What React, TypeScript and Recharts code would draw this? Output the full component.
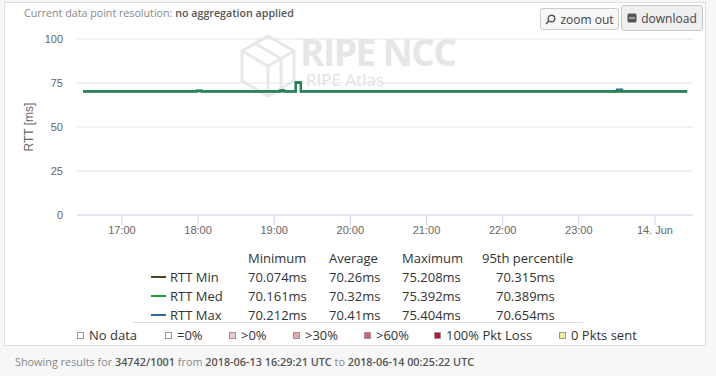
import React from "react";
import { LineChart, Line, XAxis, YAxis, CartesianGrid } from "recharts";

// time in decimal hours since 2018-06-13 00:00 UTC
const times = [16.489, 16.75, 17.0, 17.25, 17.5, 17.75, 17.98, 18.05, 18.25, 18.5, 18.75, 19.0, 19.08, 19.13, 19.2, 19.283, 19.35, 19.42, 19.6, 19.85, 20.1, 20.35, 20.6, 20.85, 21.1, 21.35, 21.6, 21.85, 22.1, 22.35, 22.6, 22.85, 23.1, 23.35, 23.5, 23.57, 23.75, 24.0, 24.25, 24.423];
const rttMin = [70.1, 70.1, 70.1, 70.1, 70.1, 70.1, 70.3, 70.1, 70.1, 70.1, 70.1, 70.1, 70.3, 70.1, 70.1, 75.21, 70.1, 70.1, 70.1, 70.1, 70.1, 70.1, 70.1, 70.1, 70.1, 70.1, 70.1, 70.1, 70.1, 70.1, 70.1, 70.1, 70.1, 70.1, 70.2, 70.1, 70.1, 70.1, 70.1, 70.1];
const rttMed = [70.2, 70.2, 70.2, 70.2, 70.2, 70.2, 70.6, 70.2, 70.2, 70.2, 70.2, 70.2, 70.7, 70.2, 70.2, 75.39, 70.2, 70.2, 70.2, 70.2, 70.2, 70.2, 70.2, 70.2, 70.2, 70.2, 70.2, 70.2, 70.2, 70.2, 70.2, 70.2, 70.2, 70.2, 70.3, 70.2, 70.2, 70.2, 70.2, 70.2];
const rttMax = [70.3, 70.3, 70.3, 70.3, 70.3, 70.3, 70.7, 70.3, 70.3, 70.3, 70.3, 70.3, 70.9, 70.3, 70.3, 75.4, 70.3, 70.3, 70.3, 70.3, 70.3, 70.3, 70.3, 70.3, 70.3, 70.3, 70.3, 70.3, 70.3, 70.3, 70.3, 70.3, 70.3, 70.3, 71.3, 70.3, 70.3, 70.3, 70.3, 70.3];

const xTicks = [17, 18, 19, 20, 21, 22, 23, 24];
const xTickLabels = ["17:00", "18:00", "19:00", "20:00", "21:00", "22:00", "23:00", "14. Jun"];
const yTicks = [0, 25, 50, 75, 100];

const statHeaders = ["Minimum", "Average", "Maximum", "95th percentile"];
const seriesNames = ["RTT Min", "RTT Med", "RTT Max"];
const seriesColors = ["#4d4226", "#1f9e3c", "#2f6aa8"];
const statValues = [
  ["70.074ms", "70.26ms", "75.208ms", "70.315ms"],
  ["70.161ms", "70.32ms", "75.392ms", "70.389ms"],
  ["70.212ms", "70.41ms", "75.404ms", "70.654ms"],
];

const lossLabels = ["No data", "=0%", ">0%", ">30%", ">60%", "100% Pkt Loss", "0 Pkts sent"];
const lossColors = ["#ffffff", "#ffffff", "#ecc9cc", "#e8a3ab", "#d6606b", "#c8102e", "#f2f09a"];

const data = times.map((t, i) => ({ t, min: rttMin[i], med: rttMed[i], max: rttMax[i] }));

const OS = "'Open Sans', 'Noto Sans', sans-serif";
const AR = "'Liberation Sans', Arial, sans-serif";

const abs = (x: number, y: number): React.CSSProperties => ({ position: "absolute", left: x, top: y, whiteSpace: "nowrap" });

export default function App() {
  const colX = [248, 329, 402, 482];
  const lossX = [77, 165, 229, 293, 364, 434, 559];
  return (
    <div style={{ position: "absolute", left: 0, top: 0, width: 716, height: 376, background: "#f7f7f7", overflow: "hidden", fontFamily: OS }}>
      <div style={{ position: "absolute", left: 4, top: 2, width: 700, height: 342, background: "#fff", border: "1px solid #dedede" }} />
      {/* watermark */}
      <svg style={{ position: "absolute", left: 236, top: 32 }} width={64} height={68}>
        <g fill="none" stroke="#e8e8e8" strokeWidth={3}>
          <polygon points="32,4 58,19 58,49 32,64 6,49 6,19" />
          <polyline points="6,19 32,34 58,19" />
          <line x1={32} y1={34} x2={32} y2={64} />
          <polyline points="19,11.5 45,26.5 45,56.5" />
        </g>
      </svg>
      <div style={{ ...abs(300, 33), fontSize: 37, lineHeight: "37px", fontWeight: 700, color: "#e6e6e6", letterSpacing: -1.5 }}>RIPE NCC</div>
      <div style={{ ...abs(306, 71), fontSize: 17, lineHeight: "18px", color: "#e2e2e2" }}>RIPE Atlas</div>

      <div style={{ ...abs(24, 6), fontSize: 10.7, color: "#888" }}>
        Current data point resolution: <span style={{ color: "#555", fontWeight: 600 }}>no aggregation applied</span>
      </div>
      <div style={{ position: "absolute", left: 540, top: 8, width: 77, height: 20, border: "1px solid #ccc", borderRadius: 3, background: "#f7f7f7", fontSize: 12, color: "#444", display: "flex", alignItems: "center", justifyContent: "center" }}>
        <svg width={11} height={11} style={{ marginRight: 4 }}>
          <circle cx={6.5} cy={4.5} r={3.3} fill="none" stroke="#555" strokeWidth={1.4} />
          <line x1={4} y1={7} x2={1} y2={10} stroke="#555" strokeWidth={1.6} />
        </svg>
        zoom out
      </div>
      <div style={{ position: "absolute", left: 621, top: 5, width: 80, height: 24, border: "1px solid #c8c8c8", borderRadius: 3, background: "#efefef", fontSize: 12, color: "#444", display: "flex", alignItems: "center", justifyContent: "center" }}>
        <svg width={10} height={10} style={{ marginRight: 4 }}>
          <rect x={0.5} y={0.5} width={9} height={9} rx={1.5} fill="#555" />
          <rect x={2} y={4.5} width={6} height={1} fill="#efefef" />
        </svg>
        download
      </div>

      <div style={{ position: "absolute", left: 0, top: 0 }}>
        <LineChart width={716} height={240} data={data} margin={{ top: 39, right: 23, bottom: 0, left: 37 }}>
          <CartesianGrid horizontal vertical={false} stroke="#e6e6e6" />
          <XAxis
            dataKey="t"
            type="number"
            domain={[16.41, 24.5]}
            ticks={xTicks}
            tickFormatter={(v: number) => xTickLabels[xTicks.indexOf(v)]}
            height={25}
            tickSize={10}
            tickMargin={1}
            stroke="#ccd6eb"
            tick={{ fill: "#666", fontSize: 11, fontFamily: AR }}
            allowDataOverflow
          />
          <YAxis
            type="number"
            domain={[0, 100]}
            ticks={yTicks}
            width={40}
            axisLine={false}
            tickLine={false}
            tickSize={0}
            tickMargin={14}
            tick={{ fill: "#666", fontSize: 11, fontFamily: AR }}
          />
          <Line type="stepAfter" dataKey="min" stroke={seriesColors[0]} strokeWidth={2} dot={false} isAnimationActive={false} />
          <Line type="stepAfter" dataKey="max" stroke={seriesColors[2]} strokeWidth={2} dot={false} isAnimationActive={false} />
          <Line type="stepAfter" dataKey="med" stroke="#1f8a45" strokeWidth={2} dot={false} isAnimationActive={false} />
        </LineChart>
      </div>
      <div style={{ position: "absolute", left: 29, top: 127, transform: "translate(-50%,-50%) rotate(-90deg)", fontSize: 12, color: "#666", fontFamily: AR, whiteSpace: "nowrap" }}>RTT [ms]</div>

      {/* stats table */}
      {statHeaders.map((h, i) => (
        <div key={h} style={{ ...abs(colX[i], 249), fontSize: 13, color: "#333" }}>{h}</div>
      ))}
      {seriesNames.map((n, r) => (
        <React.Fragment key={n}>
          <div style={{ position: "absolute", left: 151, top: 276 + r * 19, width: 15, height: 2, background: seriesColors[r] }} />
          <div style={{ ...abs(170, 268 + r * 19), fontSize: 13, color: "#333" }}>{n}</div>
          {statValues[r].map((v, c) => (
            <div key={c} style={{ ...abs(c === 3 ? 496 : colX[c], 268 + r * 19), fontSize: 13, color: "#333" }}>{v}</div>
          ))}
        </React.Fragment>
      ))}
      <div style={{ position: "absolute", left: 133, top: 322, width: 450, height: 1, background: "#ddd" }} />

      {lossLabels.map((l, i) => (
        <React.Fragment key={l}>
          <div style={{ position: "absolute", left: lossX[i], top: 332, width: 5, height: 5, background: lossColors[i], border: "1px solid #999" }} />
          <div style={{ ...abs(lossX[i] + 12, 326), fontSize: 13, color: "#333" }}>{l}</div>
        </React.Fragment>
      ))}

      <div style={{ ...abs(15, 354), fontSize: 10.85, color: "#888" }}>
        Showing results for <span style={{ color: "#555", fontWeight: 600 }}>34742/1001</span> from <span style={{ color: "#555", fontWeight: 600 }}>2018-06-13 16:29:21 UTC</span> to <span style={{ color: "#555", fontWeight: 600 }}>2018-06-14 00:25:22 UTC</span>
      </div>
    </div>
  );
}
